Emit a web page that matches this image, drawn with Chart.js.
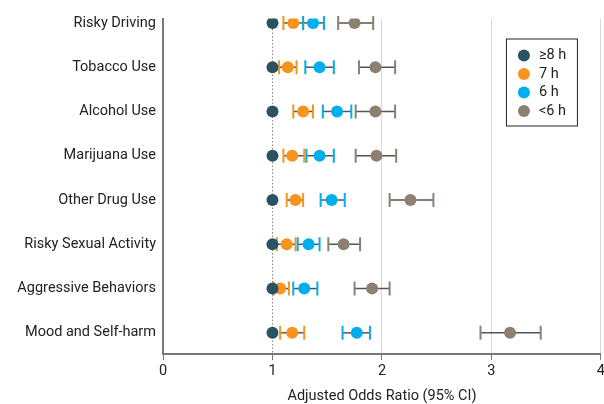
<!DOCTYPE html>
<html>
<head>
<meta charset="utf-8">
<script src="https://cdn.jsdelivr.net/npm/chart.js@4"></script>
<style>
  html, body { margin: 0; background: #fff; overflow: hidden; }
  #wrap { width: 604px; height: 404px; overflow: hidden; }
</style>
</head>
<body>
<div id="wrap"><canvas id="oddsChart" width="608" height="404"></canvas></div>
<script>
const categories = [
  "Risky Driving", "Tobacco Use", "Alcohol Use", "Marijuana Use",
  "Other Drug Use", "Risky Sexual Activity", "Aggressive Behaviors", "Mood and Self-harm"
];
const seriesLabels = ["≥8 h", "7 h", "6 h", "<6 h"];
const xTicks = [0, 1, 2, 3, 4];

// ≥8 h is the reference group
const or8 = [1, 1, 1, 1, 1, 1, 1, 1];

const or7 = [1.19, 1.14, 1.28, 1.18, 1.21, 1.13, 1.07, 1.18];
const lo7 = [1.10, 1.06, 1.19, 1.10, 1.13, 1.04, 1.01, 1.07];
const hi7 = [1.28, 1.22, 1.37, 1.29, 1.28, 1.21, 1.15, 1.29];

const or6 = [1.37, 1.43, 1.59, 1.43, 1.54, 1.33, 1.29, 1.77];
const lo6 = [1.28, 1.30, 1.46, 1.31, 1.44, 1.23, 1.19, 1.64];
const hi6 = [1.47, 1.56, 1.72, 1.56, 1.66, 1.43, 1.41, 1.89];

const orLt6 = [1.75, 1.94, 1.94, 1.95, 2.26, 1.65, 1.91, 3.17];
const loLt6 = [1.60, 1.79, 1.76, 1.76, 2.07, 1.51, 1.75, 2.90];
const hiLt6 = [1.92, 2.12, 2.12, 2.13, 2.47, 1.80, 2.07, 3.45];

const colors = ["#2b5262", "#f7941d", "#00aeef", "#8c8171"];
const FONT = "Roboto, 'Noto Sans', sans-serif";
const FSIZE = 14.5;

const toPoints = (vals) => vals.map((v, i) => ({ x: v, y: i }));

// CI whiskers drawn under the points
const errorBars = {
  id: "errorBars",
  beforeDatasetsDraw(chart) {
    const { ctx, scales: { x, y } } = chart;
    const groups = [
      [lo7, hi7, colors[1]],
      [lo6, hi6, colors[2]],
      [loLt6, hiLt6, colors[3]],
    ];
    ctx.save();
    groups.forEach(([lo, hi, col]) => {
      lo.forEach((l, i) => {
        const py = y.getPixelForValue(i);
        const x1 = x.getPixelForValue(l);
        const x2 = x.getPixelForValue(hi[i]);
        ctx.strokeStyle = "#555";
        ctx.lineWidth = 1.5;
        ctx.beginPath();
        ctx.moveTo(x1, py);
        ctx.lineTo(x2, py);
        ctx.stroke();
        ctx.strokeStyle = col;
        ctx.lineWidth = 2;
        ctx.beginPath();
        ctx.moveTo(x1, py - 7);
        ctx.lineTo(x1, py + 7);
        ctx.moveTo(x2, py - 7);
        ctx.lineTo(x2, py + 7);
        ctx.stroke();
      });
    });
    ctx.restore();
  },
};

// dotted reference line at OR = 1
const refLine = {
  id: "refLine",
  beforeDatasetsDraw(chart) {
    const { ctx, chartArea, scales: { x } } = chart;
    const px = Math.round(x.getPixelForValue(1)) + 0.5;
    ctx.save();
    ctx.strokeStyle = "#888";
    ctx.lineWidth = 1;
    ctx.setLineDash([1.5, 2]);
    ctx.beginPath();
    ctx.moveTo(px, chartArea.top);
    ctx.lineTo(px, chartArea.bottom);
    ctx.stroke();
    ctx.restore();
  },
};

// boxed legend inside the plot, top right
const boxLegend = {
  id: "boxLegend",
  afterDraw(chart) {
    const { ctx, chartArea } = chart;
    const left = chartArea.right - 95;
    const top = chartArea.top + 20;
    ctx.save();
    ctx.fillStyle = "#fff";
    ctx.fillRect(left, top, 71, 87);
    ctx.strokeStyle = "#222";
    ctx.lineWidth = 1;
    ctx.strokeRect(left + 0.5, top + 0.5, 71, 87);
    ctx.font = FSIZE + "px " + FONT;
    ctx.textBaseline = "middle";
    seriesLabels.forEach((lab, i) => {
      const cy = top + 17 + i * 18.5;
      ctx.fillStyle = colors[i];
      ctx.beginPath();
      ctx.arc(left + 18, cy, 6, 0, Math.PI * 2);
      ctx.fill();
      ctx.fillStyle = "#222";
      ctx.fillText(lab, left + 33, cy);
    });
    ctx.restore();
  },
};

const datasets = [or8, or7, or6, orLt6].map((vals, k) => ({
  label: seriesLabels[k],
  data: toPoints(vals),
  backgroundColor: colors[k],
  borderWidth: 0,
  pointRadius: 6,
  pointHoverRadius: 6,
}));

new Chart(document.getElementById("oddsChart"), {
  type: "scatter",
  data: { datasets },
  plugins: [refLine, errorBars, boxLegend],
  options: {
    responsive: false,
    animation: false,
    layout: { padding: { top: 18.5, right: 0 } },
    plugins: {
      legend: { display: false },
      tooltip: { enabled: false },
    },
    scales: {
      x: {
        type: "linear",
        min: 0,
        max: 4,
        afterBuildTicks: (scale) => { scale.ticks = xTicks.map((v) => ({ value: v })); },
        ticks: { color: "#222", font: { family: FONT, size: FSIZE }, padding: 3 },
        grid: {
          color: (c) => (c.tick && c.tick.value >= 2 ? "#d9d9d9" : "rgba(0,0,0,0)"),
          tickColor: "#777",
          tickLength: 6,
          lineWidth: 1,
        },
        border: { color: "#777", width: 2 },
        title: {
          display: true,
          text: "Adjusted Odds Ratio (95% CI)",
          color: "#222",
          font: { family: FONT, size: FSIZE, lineHeight: 1 },
          padding: { top: 6, bottom: 0 },
        },
      },
      y: {
        type: "linear",
        reverse: true,
        min: -0.10,
        max: 7.48,
        afterBuildTicks: (scale) => { scale.ticks = categories.map((c, i) => ({ value: i })); },
        afterFit: (scale) => { scale.width = 163; },
        ticks: {
          color: "#222",
          font: { family: FONT, size: FSIZE },
          padding: 7,
          callback: (v) => categories[v],
        },
        grid: { display: false, drawTicks: false },
        border: { color: "#777", width: 2 },
      },
    },
  },
});
</script>
</body>
</html>
